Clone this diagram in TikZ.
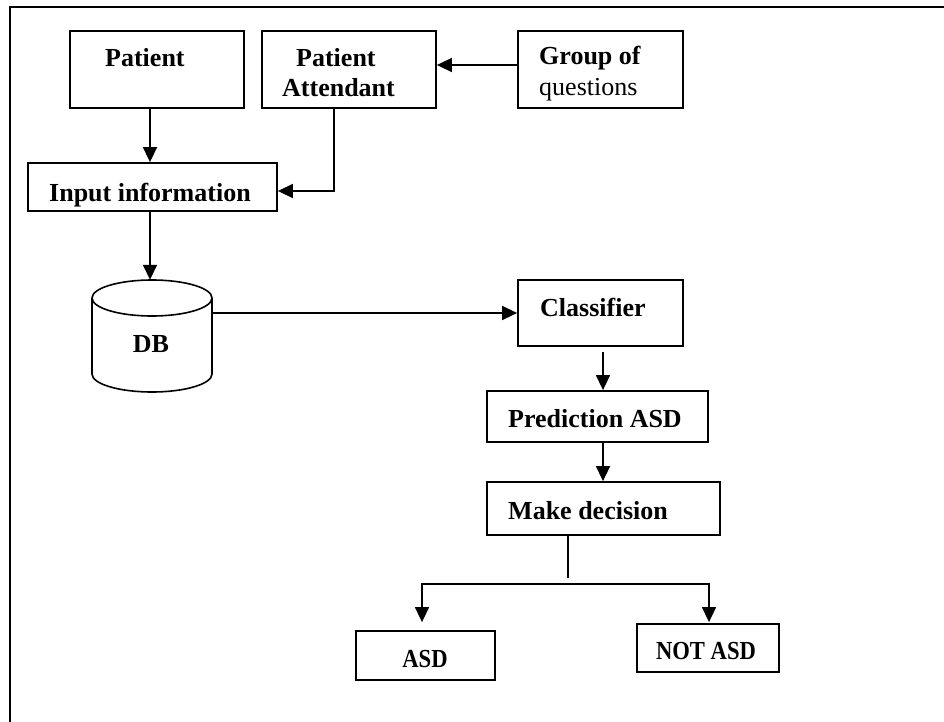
\documentclass[tikz,border=0pt]{standalone}
\usepackage{fontspec}
\setmainfont{Liberation Serif}
\usetikzlibrary{arrows.meta,calc}
\begin{document}
\begin{tikzpicture}[x=1pt,y=-1pt,
  box/.style={draw,line width=1.8pt,rectangle,inner sep=0pt},
  lbl/.style={anchor=base west,inner sep=0pt,font=\fontsize{26}{29}\selectfont\bfseries},
  lbln/.style={anchor=base west,inner sep=0pt,font=\fontsize{26}{29}\selectfont},
  lblc/.style={anchor=base,inner sep=0pt,font=\fontsize{26}{29}\selectfont\bfseries},
  arr/.style={line width=1.6pt,-{Triangle[length=15pt,width=14pt]}},
  ln/.style={line width=1.6pt}]
\useasboundingbox (0,0) rectangle (944,722);
% outer frame
\draw[line width=1.8pt] (944,7) -- (10,7) -- (10,722);
% boxes
\node[box,minimum width=174pt,minimum height=77pt] (pat) at (157,69.5) {};
\node[box,minimum width=174pt,minimum height=77pt] (att) at (349,69.5) {};
\node[box,minimum width=165pt,minimum height=77pt] (grp) at (600.5,69.5) {};
\node[box,minimum width=249pt,minimum height=48pt] (inp) at (152.5,187) {};
\node[draw=none,inner sep=0pt,minimum width=120pt,minimum height=112pt] (db) at (152,336) {};
\node[box,minimum width=165pt,minimum height=66pt] (cls) at (600.5,313) {};
\node[box,minimum width=221pt,minimum height=51pt] (pred) at (597.5,416.5) {};
\node[box,minimum width=233pt,minimum height=53pt] (dec) at (603.5,508.5) {};
\node[box,minimum width=139pt,minimum height=49pt] (asd) at (425.5,655.5) {};
\node[box,minimum width=142pt,minimum height=48pt] (nasd) at (708,648) {};
% cylinder
\draw[line width=1.6pt] (152,298) ellipse [x radius=60, y radius=18];
\draw[line width=1.6pt] (92,298) -- (92,374) arc[start angle=180,end angle=360,x radius=60,y radius=-18] -- (212,298);
% labels
\node[lbl] (tpat) at (105,67) {Patient};
\node[lbl] (tatt1) at (296,67) {Patient};
\node[lbl] (tatt2) at (282,97) {Attendant};
\node[lbl] (tgrp1) at (539,65) {Group of};
\node[lbln] (tgrp2) at (539,96) {questions};
\node[lbl] (tinp) at (49,201) {Input information};
\node[lblc] (tdb) at (151,352) {DB};
\node[lbl] (tcls) at (540,316) {Classifier};
\node[lbl] (tpred) at (508,427) {Prediction ASD};
\node[lbl] (tdec) at (508,519) {Make decision};
\node[lblc,xscale=0.87,transform shape] (tasd) at (425,667) {ASD};
\node[lblc,xscale=0.87,transform shape] (tnasd) at (706,659) {NOT ASD};
% connectors
\draw[arr] ([xshift=-7pt]pat.south) -- ([xshift=-7pt]pat.south |- inp.north);
\draw[arr] ([xshift=-15pt]att.south) |- ([yshift=-4pt]inp.east);
\draw[arr] ([yshift=4.5pt]grp.west) -- ([yshift=4.5pt]att.east);
\draw[arr] ([xshift=-2.5pt]inp.south) -- ([xshift=-2pt]db.north);
\draw[arr] (cls.west -| db.east) -- (cls.west);
\draw[arr] ([xshift=2.5pt,yshift=-5pt]cls.south) -- ([xshift=2.5pt]cls.south |- pred.north);
\draw[arr] ([xshift=-0.5pt]pred.south -| dec) -- ([xshift=-0.5pt]dec.north);
\coordinate (stemend) at (568,578);
\coordinate (br) at (568,584);
\draw[ln] (stemend |- dec.south) -- (stemend);
\draw[arr] (br) -| ([xshift=-3.5pt,yshift=8pt]asd.north);
\draw[arr] (br) -| ([xshift=1pt,yshift=1pt]nasd.north);
\end{tikzpicture}
\end{document}
